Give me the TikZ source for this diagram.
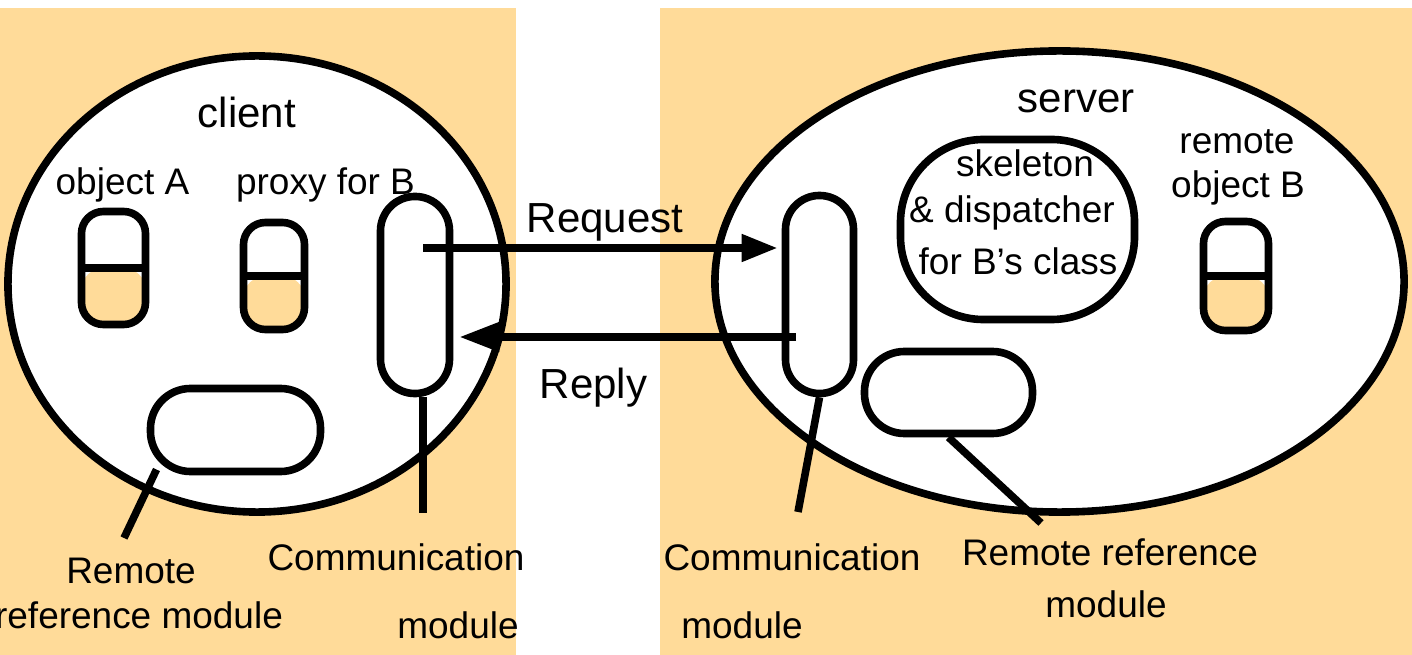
\documentclass[tikz,border=0pt]{standalone}
\usepackage{fontspec}
\setmainfont{Liberation Sans}
\usetikzlibrary{positioning, arrows.meta, shapes.geometric}
\definecolor{bgorange}{RGB}{255,219,153}
\tikzset{linha/.style={line width=0.19cm}}
\tikzset{txt/.style={anchor=base,inner sep=0pt,font=\fontsize{26.3}{31}\selectfont}}
\tikzset{titulo/.style={anchor=base,inner sep=0pt,font=\fontsize{29.9}{35}\selectfont}}
\tikzset{capsula/.style={draw,linha,fill=white,inner sep=0pt,rectangle}}
\tikzset{objeto/.style={capsula,minimum width=1.6cm,rounded corners=0.55cm,
    path picture={\fill[bgorange] (path picture bounding box.south west) rectangle (path picture bounding box.east);
                  \draw[linha] (path picture bounding box.west) -- (path picture bounding box.east);}}}

\begin{document}
\begin{tikzpicture}[
                x=0.025cm, y=-0.025cm
            ]
                \useasboundingbox (0,0) rectangle (1412,655);
                \fill[bgorange] (0,8) rectangle (516,655);
                \fill[bgorange] (660,8) rectangle (1412,655);

                % client side
                \node[ellipse,draw,linha,fill=white,inner sep=0pt,minimum width=12.45cm,minimum height=11.4cm] (client) at (257,284) {};
                \node[objeto,minimum height=2.825cm] (objA) at (113.5,268) {};
                \node[objeto,minimum width=1.525cm,minimum height=2.675cm] (proxyB) at (274,276) {};
                \node[capsula,minimum width=1.725cm,minimum height=4.925cm,rounded corners=0.86cm] (cliComm) at (415,295) {};
                \node[capsula,minimum width=4.25cm,minimum height=2.075cm,rounded corners=1cm] (cliRrm) at (235.5,430) {};

                % server side
                \node[ellipse,draw,linha,fill=white,inner sep=0pt,minimum width=17.225cm,minimum height=11.525cm] (server) at (1059.5,281.5) {};
                \node[capsula,minimum width=5.85cm,minimum height=4.5cm,rounded corners=2.075cm] (skel) at (1017.5,229.5) {};
                \node[objeto,minimum width=1.625cm,minimum height=2.725cm] (objB) at (1236,276) {};
                \node[capsula,minimum width=1.7cm,minimum height=4.95cm,rounded corners=0.85cm] (srvComm) at (819.5,294.5) {};
                \node[capsula,minimum width=4.2cm,minimum height=2.05cm,rounded corners=1cm] (srvRrm) at (948.5,392.5) {};

                % mensagens
                \coordinate (reqIni) at (423,248);
                \coordinate (repIni) at (796,337);
                \draw[linha,-{Triangle[length=0.9cm,width=0.65cm]},shorten >=0.1cm] (reqIni) -- (reqIni -| srvComm.west);
                \draw[linha,-{Triangle[length=1cm,width=0.7cm]},shorten >=0.15cm] (repIni) -- (repIni -| cliComm.east);

                % linhas das legendas
                \coordinate (fimCliRrm) at (124,538);
                \coordinate (fimCliComm) at (423,513);
                \coordinate (fimSrvComm) at (798,512);
                \coordinate (fimSrvRrm) at (1041,523);
                \draw[linha,shorten <=-0.16cm] (cliRrm.-151) -- (fimCliRrm);
                \draw[linha] (cliComm.south -| fimCliComm) -- (fimCliComm);
                \draw[linha] (srvComm.south) -- (fimSrvComm);
                \draw[linha] (srvRrm.south) -- (fimSrvRrm);

                % textos
                \node[titulo] (tCliente) at (247,128) {client};
                \node[titulo] (tServidor) at (1076,113) {server};
                \node[txt] (tObjA) at (122.5,195) {object A};
                \node[txt] (tProxy) at (325.5,195) {proxy for B};
                \node[titulo] (tReq) at (605,233) {Request};
                \node[titulo] (tRep) at (593.5,398) {Reply};
                \node[txt] (tSkel1) at (1025,177) {skeleton};
                \node[txt] (tSkel2) at (1012,223) {\& dispatcher};
                \node[txt] (tSkel3) at (1018,275) {for B’s class};
                \node[txt] (tObjB1) at (1237,154) {remote};
                \node[txt] (tObjB2) at (1238,198) {object B};
                \node[txt] (tCliRrm1) at (131,583) {Remote};
                \node[txt] (tCliRrm2) at (139,628) {reference module};
                \node[txt] (tCliComm1) at (396,570) {Communication};
                \node[txt] (tCliComm2) at (458,638) {module};
                \node[txt] (tSrvComm1) at (792,570) {Communication};
                \node[txt] (tSrvComm2) at (742,638) {module};
                \node[txt] (tSrvRrm1) at (1110,565) {Remote reference};
                \node[txt] (tSrvRrm2) at (1106,617) {module};
            \end{tikzpicture}
\end{document}
